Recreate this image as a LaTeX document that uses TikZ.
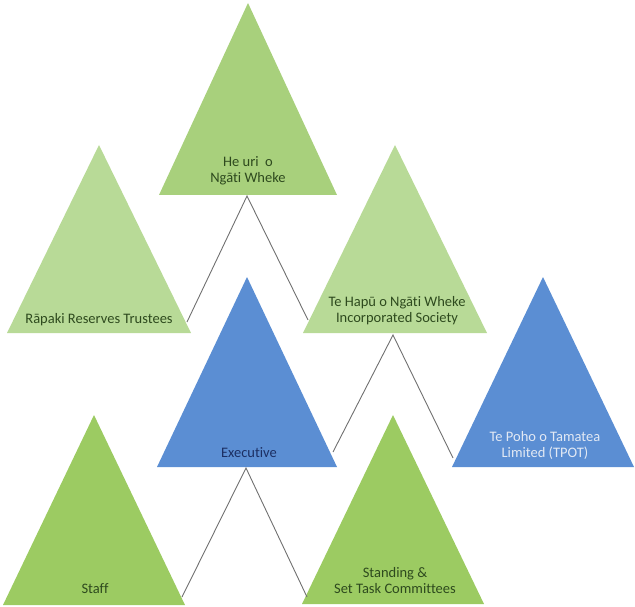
\documentclass[tikz,border=0pt]{standalone}
\usepackage{fontspec}
\setmainfont{Carlito}[Ligatures={NoCommon}]
\definecolor{gmid}{HTML}{A8D07C}
\definecolor{glight}{HTML}{B8DA97}
\definecolor{gstrong}{HTML}{9CCB62}
\definecolor{bmid}{HTML}{5B8ED3}
\definecolor{gtext}{HTML}{2E4A1E}
\definecolor{btext}{HTML}{1C2F63}
\definecolor{wtext}{HTML}{E2E9F4}
\definecolor{conn}{HTML}{707070}
\tikzset{
  lbl/.style={font=\fontsize{14.5}{16}\selectfont, align=center, inner sep=0pt},
  glbl/.style={lbl, text=gtext},
  blbl/.style={lbl, text=btext},
  wlbl/.style={lbl, text=wtext},
  link/.style={draw=conn, line width=0.9pt}
}
\begin{document}
\begin{tikzpicture}[x=1pt,y=-1pt]
\useasboundingbox (0,0) rectangle (635,607);
% triangles
\fill[gmid]   (248,3)   -- (159,195) -- (337,195) -- cycle;
\fill[glight] (99,145)  -- (7,333)   -- (191,333) -- cycle;
\fill[glight] (395,145) -- (303,333) -- (487,333) -- cycle;
\fill[bmid]   (247,277) -- (157,467) -- (337,467) -- cycle;
\fill[bmid]   (543,277) -- (452,467) -- (634,467) -- cycle;
\fill[gstrong](94,415)  -- (3,605)   -- (185,605) -- cycle;
\fill[gstrong](393,415) -- (302,604) -- (484,604) -- cycle;
% labels
\node[glbl] (heuri) at (248,171) {He uri\ \ o\\Ngāti Wheke};
\node[glbl] (rapaki) at (99,320) {Rāpaki Reserves Trustees};
\node[glbl] (tehapu) at (397,311) {Te Hapū o Ngāti Wheke\\Incorporated Society};
\node[blbl] (exec) at (249,453) {Executive};
\node[wlbl] (tpot) at (545,445) {Te Poho o Tamatea\\Limited (TPOT)};
\node[glbl] (staff) at (95,589) {Staff};
\node[glbl] (standing) at (395,581) {Standing \&\\Set Task Committees};
% connector points
\coordinate (c1) at (247,196);
\coordinate (c1l) at (187,322);
\coordinate (c1r) at (308,320);
\coordinate (c2) at (393,335);
\coordinate (c2l) at (333,452);
\coordinate (c2r) at (453,458);
\coordinate (c3) at (246,468);
\coordinate (c3l) at (182,597);
\coordinate (c3r) at (307,597);
\draw[link] (c1l) -- (c1) -- (c1r);
\draw[link] (c2l) -- (c2) -- (c2r);
\draw[link] (c3l) -- (c3) -- (c3r);
\end{tikzpicture}
\end{document}
